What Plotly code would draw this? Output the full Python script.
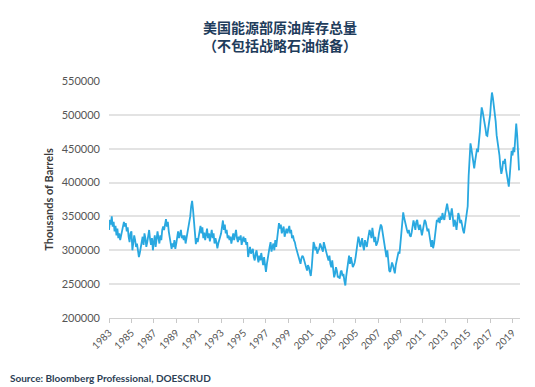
import pandas as pd
import plotly.graph_objects as go

# Monthly readings (thousands of barrels), Jan 1983 onward
y1983_1990 = [
    330, 345, 338, 350, 335, 342, 328, 336, 322, 332, 318, 325,
    315, 322, 330, 336, 342, 335, 340, 328, 334, 320, 312, 325,
    328, 300, 312, 322, 315, 305, 310, 298, 290, 296, 305, 312,
    320, 308, 325, 318, 305, 312, 325, 330, 316, 308, 318, 300,
    312, 322, 305, 316, 328, 318, 310, 322, 315, 330, 335, 330,
    338, 346, 335, 342, 328, 320, 308, 302, 310, 305, 315, 302,
    310, 320, 328, 318, 325, 330, 318, 322, 315, 322, 310, 318,
    320, 330, 338, 350, 365, 373, 360, 340, 318, 309, 318, 312,
]
y1991_1998 = [
    320, 330, 336, 325, 334, 318, 326, 315, 322, 332, 318, 325,
    313, 322, 330, 318, 325, 310, 318, 312, 303, 310, 318, 320,
    325, 335, 344, 330, 338, 325, 330, 318, 322, 315, 320, 310,
    318, 325, 315, 322, 330, 318, 312, 320, 315, 322, 308, 315,
    320, 312, 318, 308, 312, 290, 298, 305, 295, 300, 302, 290,
    285, 295, 300, 290, 282, 292, 285, 296, 288, 278, 290, 282,
    268, 280, 290, 296, 305, 312, 298, 305, 310, 300, 315, 305,
    318, 330, 340, 332, 338, 325, 330, 335, 320, 328, 332, 325,
]
y1999_2006 = [
    330, 336, 325, 330, 318, 322, 315, 312, 305, 300, 295, 290,
    285, 280, 288, 292, 290, 285, 280, 275, 270, 278, 275, 268,
    262, 275, 290, 312, 308, 300, 305, 295, 300, 302, 310, 306,
    300, 298, 312, 305, 300, 295, 290, 285, 292, 280, 275, 285,
    270, 260, 265, 275, 270, 260, 262, 258, 268, 270, 262, 265,
    255, 248, 262, 275, 285, 292, 280, 290, 283, 275, 278, 282,
    290, 300, 310, 320, 315, 305, 310, 318, 306, 300, 315, 310,
    305, 315, 320, 330, 325, 318, 333, 325, 312, 320, 307, 310,
]
y2007_2014 = [
    315, 325, 330, 338, 335, 325, 318, 305, 295, 290, 300, 280,
    270, 268, 275, 282, 278, 272, 266, 278, 285, 290, 298, 295,
    310, 325, 345, 356, 348, 340, 338, 330, 325, 330, 322, 320,
    326, 335, 344, 338, 330, 342, 345, 335, 330, 338, 325, 322,
    330, 340, 345, 342, 335, 328, 332, 320, 312, 305, 315, 303,
    310, 325, 335, 345, 342, 348, 340, 350, 345, 355, 348, 345,
    355, 362, 369, 360, 355, 345, 358, 362, 350, 335, 345, 340,
    330, 345, 355, 350, 340, 345, 335, 330, 325, 335, 345, 350,
]
y2015_2019 = [
    365, 410, 445, 458, 450, 440, 430, 421, 432, 440, 450, 445,
    458, 475, 495, 511, 505, 498, 490, 480, 470, 469, 480, 490,
    500, 520, 533, 525, 515, 505, 490, 470, 460, 450, 440, 423,
    413, 420, 432, 428, 435, 420, 410, 400, 394, 410, 437, 447,
    440, 452, 445, 465, 487, 470, 445, 418,
]

stocks = [v * 1000 for v in (y1983_1990 + y1991_1998 + y1999_2006 + y2007_2014 + y2015_2019)]
dates = pd.date_range("1983-01-01", periods=len(stocks), freq="MS")

title_line1 = "美国能源部原油库存总量"
title_line2 = "（不包括战略石油储备）"
y_title = "Thousands of Barrels"
source = "Source: Bloomberg Professional, DOESCRUD"
y_ticks = [200000, 250000, 300000, 350000, 400000, 450000, 500000, 550000]

fig = go.Figure()
fig.add_trace(go.Scatter(
    x=dates, y=stocks, mode="lines",
    line=dict(color="#29a8e0", width=1.8),
    hoverinfo="skip", showlegend=False,
))

# page body adds an 8px offset, so margins are shifted up/left by 8px
fig.update_layout(
    width=535, height=387,
    margin=dict(l=101, r=23, t=73, b=77, autoexpand=False),
    paper_bgcolor="white", plot_bgcolor="white",
    font=dict(family="Lato, Open Sans, sans-serif", color="#555555"),
    showlegend=False,
)

fig.update_xaxes(
    type="date", automargin=False,
    range=["1983-01-01", "2019-09-01"],
    tick0="1983-01-01", dtick="M24", tickformat="%Y",
    tickangle=-45, tickfont=dict(size=10, color="#555555"),
    showgrid=False, showline=True, linecolor="#d0d0d0", linewidth=1,
    ticks="outside", ticklen=4, tickcolor="#c8c8c8",
)
fig.update_yaxes(
    automargin=False,
    range=[200000, 550000],
    tickvals=y_ticks, ticktext=[str(v) for v in y_ticks],
    tickfont=dict(size=11, color="#555555"),
    showgrid=True, gridcolor="#e3e3e3", gridwidth=1.5,
    zeroline=False, showline=False, ticks="", ticklabelstandoff=8,
)

fig.add_annotation(
    xref="paper", yref="paper", x=-0.148, y=0.5,
    xanchor="center", yanchor="middle",
    text="<b>" + y_title + "</b>", textangle=-90, showarrow=False,
    font=dict(size=11, color="#3a3a3a"),
)
fig.add_annotation(
    xref="paper", yref="paper", x=0.416, y=1.188, xanchor="center", yanchor="middle",
    text="<b>" + title_line1 + "</b><br><b>" + title_line2 + "</b>",
    showarrow=False, align="center",
    font=dict(family="Noto Sans CJK SC", size=14, color="#1f3d5c"),
)
fig.add_annotation(
    xref="paper", yref="paper", x=-0.245, y=-0.255, xanchor="left", yanchor="middle",
    text="<b>" + source + "</b>", showarrow=False,
    font=dict(size=10, color="#2c3e55"),
)

fig.write_html("out.html")
